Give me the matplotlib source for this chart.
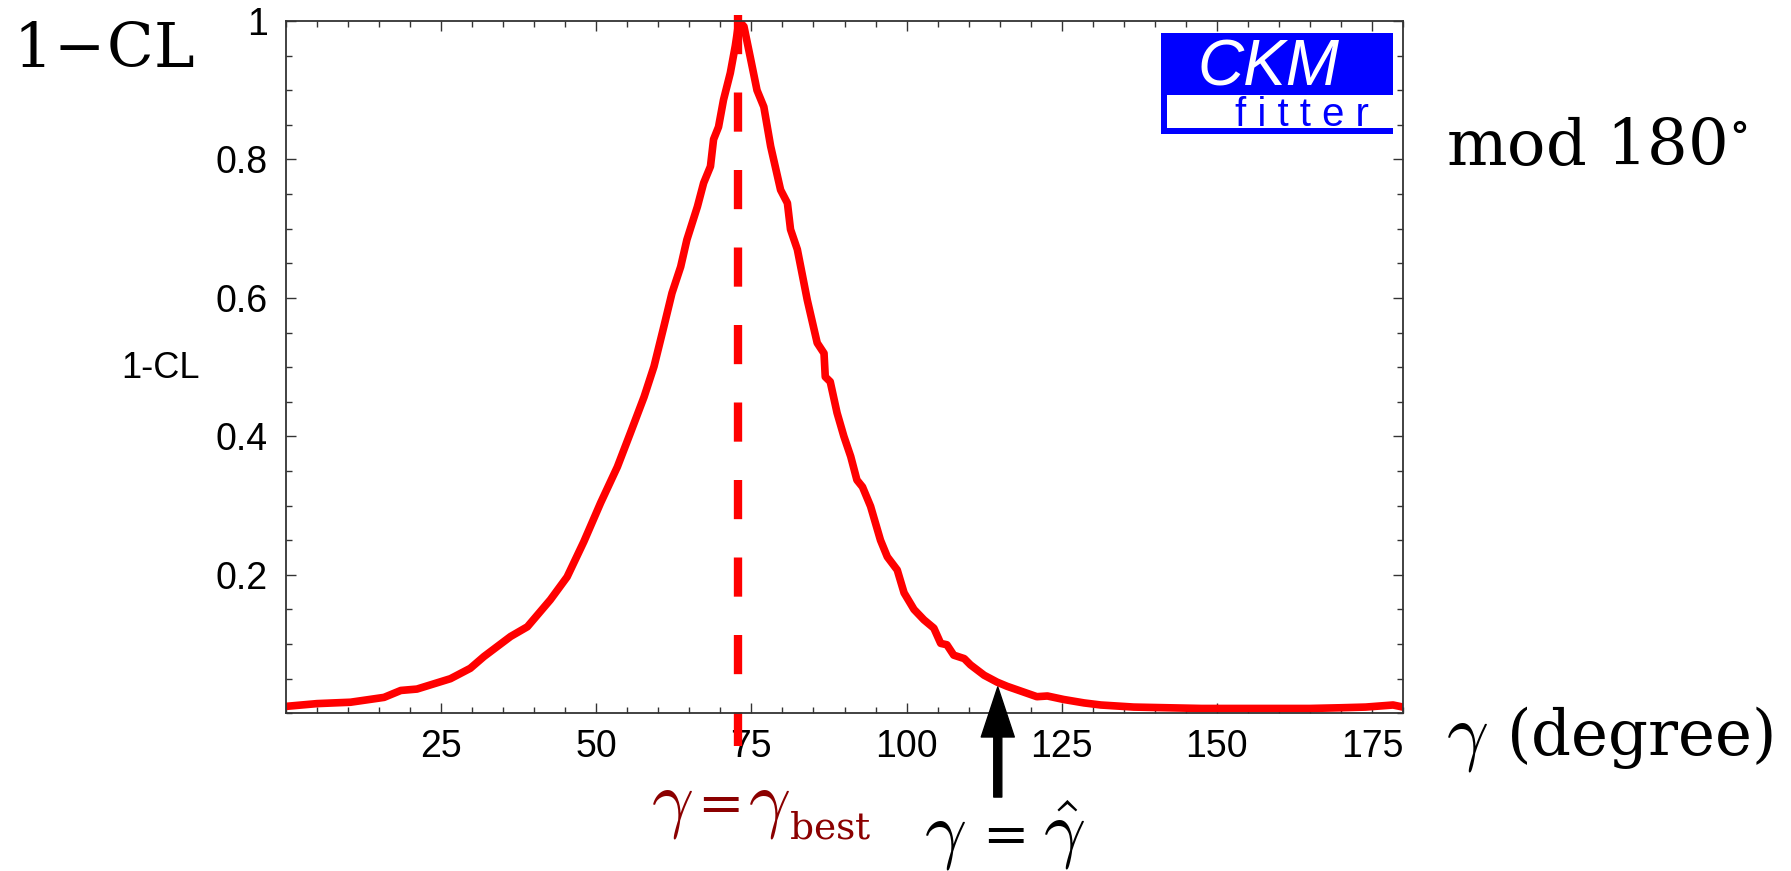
import matplotlib.pyplot as plt
from matplotlib.patches import Rectangle
from matplotlib.ticker import FixedLocator, FixedFormatter, MultipleLocator

plt.rcParams['mathtext.fontset'] = 'dejavuserif'
plt.rcParams['font.family'] = ['Liberation Sans', 'DejaVu Sans']

# 1-CL profile of gamma (degrees, mod 180)
gamma_deg = [0, 5, 10.4, 15.8, 18.5, 21.1, 26.5, 29.7, 31.9, 36.2, 38.9, 42.6,
             45.3, 48.0, 50.7, 53.4, 55.5, 57.7, 59.3, 60.9, 62.2, 63.6, 64.6,
             66.3, 67.3, 68.4, 68.9, 69.7, 70.5, 71.6, 72.4, 73.0, 73.8, 74.9,
             75.9, 77.0, 78.1, 79.7, 80.8, 81.3, 82.4, 84.0, 85.6, 86.7, 86.9,
             87.7, 88.8, 89.9, 91.0, 92.0, 92.9, 94.2, 95.8, 96.9, 98.5, 99.6,
             101.2, 102.8, 104.4, 105.5, 106.5, 107.6, 109.3, 110.3, 112.5,
             114.6, 116.2, 119.4, 121.0, 122.7, 125.3, 128.6, 131.3, 136.6,
             142.0, 147.5, 152.8, 160.0, 165.0, 170.0, 174.0, 178.4, 180.0]
one_minus_cl = [0.010, 0.014, 0.016, 0.023, 0.033, 0.035, 0.050, 0.065, 0.082,
                0.111, 0.125, 0.164, 0.197, 0.248, 0.304, 0.356, 0.405, 0.457,
                0.501, 0.559, 0.607, 0.645, 0.684, 0.732, 0.766, 0.790, 0.829,
                0.847, 0.886, 0.925, 0.964, 1.000, 0.992, 0.944, 0.900, 0.876,
                0.819, 0.756, 0.737, 0.699, 0.670, 0.597, 0.535, 0.520, 0.486,
                0.479, 0.434, 0.400, 0.371, 0.337, 0.327, 0.299, 0.250, 0.226,
                0.207, 0.174, 0.150, 0.135, 0.123, 0.101, 0.099, 0.084, 0.079,
                0.070, 0.055, 0.045, 0.039, 0.029, 0.024, 0.025, 0.020, 0.015,
                0.012, 0.009, 0.008, 0.007, 0.007, 0.007, 0.007, 0.008, 0.009,
                0.012, 0.009]

gamma_best = 72.8
gamma_hat = 114.7
gamma_hat_cl = 0.038

x_ticks = [25, 50, 75, 100, 125, 150, 175]
y_ticks = [0.2, 0.4, 0.6, 0.8, 1.0]
y_ticklabels = ['0.2', '0.4', '0.6', '0.8', '1']

W, H = 1791, 871


def px(x, y):
    # pixel position (from top-left) -> figure fraction
    return x / W, 1 - y / H


def label(x, y, s, size, cm=False, **kw):
    # serif math label; the gamma glyphs come from the Computer Modern set
    fig.text(*px(x, y), s, fontsize=size, va='baseline',
             math_fontfamily='cm' if cm else 'dejavuserif', **kw)


def equals(x, y, size, **kw):
    fig.text(*px(x, y), '=', fontsize=size, va='baseline',
             family='DejaVu Serif', **kw)


fig = plt.figure(figsize=(W / 100, H / 100), dpi=100)
ax = fig.add_axes([286 / W, 1 - 713.3 / H, 1117 / W, 692.3 / H])

ax.plot(gamma_deg, one_minus_cl, color='#ff0000', lw=5.5)
ax.plot([gamma_best, gamma_best], [1.0087, -0.047], color='#ff0000', lw=6,
        dashes=(4.7, 4.6), clip_on=False)

ax.set_xlim(0, 180)
ax.set_ylim(0, 1)
ax.xaxis.set_major_locator(FixedLocator(x_ticks))
ax.xaxis.set_minor_locator(MultipleLocator(5))
ax.yaxis.set_major_locator(FixedLocator(y_ticks))
ax.yaxis.set_major_formatter(FixedFormatter(y_ticklabels))
ax.yaxis.set_minor_locator(MultipleLocator(0.05))
ax.tick_params(which='both', direction='in', top=True, right=True,
               width=1, color='#333333', labelsize=27)
ax.tick_params(which='major', length=7)
ax.tick_params(which='minor', length=4)
ax.tick_params(axis='y', pad=13)
ax.tick_params(axis='x', pad=11)
for s in ax.spines.values():
    s.set_linewidth(1.3)
    s.set_color('#333333')

# arrow pointing at gamma-hat on the curve
ax.annotate('', xy=(gamma_hat, gamma_hat_cl), xytext=(gamma_hat, -0.121),
            arrowprops=dict(facecolor='black', edgecolor='black', width=5.8,
                            headwidth=23.8, headlength=36, shrink=0),
            annotation_clip=False)

fig.text(*px(160, 368), '1-CL', fontsize=26, ha='center', va='center')
label(13, 67, r'$1\!-\!\mathrm{CL}$', 44)
label(1446, 165, r'$\mathrm{mod}\ 180^{\circ}$', 46)

label(1446, 755, r'$\gamma$', 53, cm=True)
label(1506, 755, r'$(\mathrm{degree})$', 45)

dark_red = '#8b0000'
label(651, 822, r'$\gamma$', 53, cm=True, color=dark_red)
equals(697, 822, 40, color=dark_red)
label(748, 822, r'$\gamma$', 53, cm=True, color=dark_red)
label(789, 838, r'$\mathrm{best}$', 27, color=dark_red)

label(924, 853, r'$\gamma$', 53, cm=True)
equals(982, 853, 40)
label(1043, 853, r'$\hat{\gamma}$', 53, cm=True)

# CKMfitter logo
blue = '#0000ff'
for x0, y0, x1, y1 in [(1161, 33, 1393, 95), (1161, 95, 1167, 134),
                       (1161, 128, 1393, 134)]:
    fig.add_artist(Rectangle(px(x0, y1), (x1 - x0) / W, (y1 - y0) / H,
                             transform=fig.transFigure, color=blue, lw=0))
fig.text(*px(1268, 86), 'CKM', fontsize=46, style='italic', color='white',
         ha='center', va='baseline')
fig.text(*px(1302, 126), 'f i t t e r', fontsize=29, color=blue,
         ha='center', va='baseline')

fig.savefig('out.png', dpi=100)
